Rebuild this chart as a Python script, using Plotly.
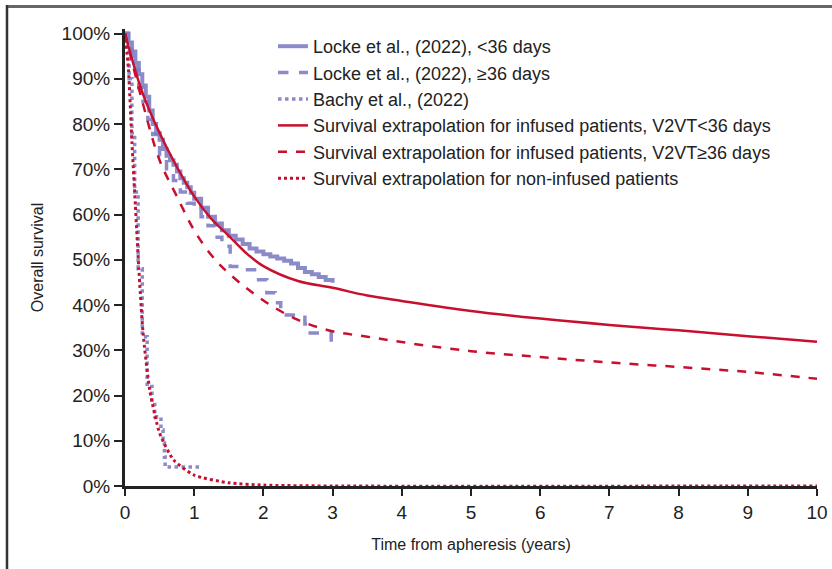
import plotly.graph_objects as go

# ---- data ----
locke_lt36_t = [0, 0.05, 0.1, 0.15, 0.2, 0.25, 0.3, 0.35, 0.4, 0.45, 0.5, 0.55, 0.6, 0.65, 0.7, 0.75, 0.8, 0.85, 0.9, 0.95,
                1.0, 1.1, 1.2, 1.3, 1.4, 1.5, 1.6, 1.7, 1.8, 1.9, 2.0, 2.1, 2.2, 2.3, 2.4, 2.5, 2.6, 2.7, 2.8, 2.9, 3.0]
locke_lt36_s = [100, 98, 96, 93.5, 91, 88.5, 86, 83, 80, 78, 76.5, 74.5, 73, 72, 71, 69.5, 68, 67, 66, 64.8,
                63.5, 61.5, 59.5, 58, 56.5, 55.3, 54.5, 53.5, 52.5, 51.8, 51.2, 50.7, 50.3, 49.8, 49.2, 48.2, 47.3, 46.8, 46.2, 45.5, 44.9]

locke_ge36_t = [0, 0.05, 0.1, 0.15, 0.2, 0.26, 0.33, 0.4, 0.5, 0.6, 0.7, 0.8, 0.9, 1.0, 1.1, 1.2, 1.3, 1.4, 1.52,
                1.7, 1.9, 2.05, 2.17, 2.25, 2.6, 2.65, 2.98, 3.0]
locke_ge36_s = [100, 98, 95, 92, 88, 85, 81, 77.7, 73, 69.5, 67.5, 65, 62.5, 61, 59.5, 57.5, 55, 53, 48.5,
                47.8, 45.6, 42.7, 40.5, 37.8, 35.8, 33.8, 31.6, 31.6]

bachy_t = [0, 0.03, 0.06, 0.1, 0.14, 0.19, 0.25, 0.32, 0.39, 0.43, 0.5, 0.52, 0.55, 0.57, 0.58, 1.08]
bachy_s = [100, 97, 90, 78, 65, 48, 33, 22, 18.4, 15.3, 15.3, 12.4, 9.5, 6.4, 4.2, 4.2]

ext_lt36_t = [0, 0.25, 0.5, 0.75, 1.0, 1.25, 1.5, 1.75, 2.0, 2.5, 3.0, 3.5, 4, 5, 6, 7, 8, 9, 10]
ext_lt36_s = [100, 87, 78, 70.5, 64, 59, 55.3, 51.5, 48.6, 45.3, 43.8, 42.1, 40.9, 38.7, 37.0, 35.6, 34.4, 33.1, 31.9]

ext_ge36_t = [0, 0.25, 0.5, 0.75, 1.0, 1.25, 1.5, 2.0, 2.5, 3.0, 3.5, 4, 5, 6, 7, 8, 9, 10]
ext_ge36_s = [100, 85, 72, 64, 56.5, 51, 47, 41, 36.7, 34.2, 33, 31.8, 29.8, 28.5, 27.3, 26.3, 25.2, 23.7]

ext_non_t = [0, 0.05, 0.1, 0.15, 0.2, 0.26, 0.36, 0.5, 0.7, 1.0, 1.5, 2.0, 3.0, 10]
ext_non_s = [100, 92, 76, 62, 48, 34, 21, 11.7, 5.8, 2.4, 0.7, 0.2, 0, 0]

x_ticks = [0, 1, 2, 3, 4, 5, 6, 7, 8, 9, 10]
y_ticks = [0, 10, 20, 30, 40, 50, 60, 70, 80, 90, 100]
y_tick_labels = ["0%", "10%", "20%", "30%", "40%", "50%", "60%", "70%", "80%", "90%", "100%"]

BLUE = "rgba(128,126,196,0.9)"
RED = "#c8102e"

fig = go.Figure()
fig.add_trace(go.Scatter(x=locke_lt36_t, y=locke_lt36_s, mode="lines", line_shape="hv",
                         line=dict(color=BLUE, width=4, dash="solid"),
                         name="Locke et al., (2022), &lt;36 days"))
fig.add_trace(go.Scatter(x=locke_ge36_t, y=locke_ge36_s, mode="lines", line_shape="hv",
                         line=dict(color=BLUE, width=3.5, dash="dash"),
                         name="Locke et al., (2022), ≥36 days"))
fig.add_trace(go.Scatter(x=bachy_t, y=bachy_s, mode="lines", line_shape="hv",
                         line=dict(color=BLUE, width=3.5, dash="dot"),
                         name="Bachy et al., (2022)"))
fig.add_trace(go.Scatter(x=ext_lt36_t, y=ext_lt36_s, mode="lines", line_shape="spline",
                         line=dict(color=RED, width=2.5, dash="solid"),
                         name="Survival extrapolation for infused patients, V2VT&lt;36 days"))
fig.add_trace(go.Scatter(x=ext_ge36_t, y=ext_ge36_s, mode="lines", line_shape="spline",
                         line=dict(color=RED, width=2.5, dash="dash"),
                         name="Survival extrapolation for infused patients, V2VT≥36 days"))
fig.add_trace(go.Scatter(x=ext_non_t, y=ext_non_s, mode="lines", line_shape="spline",
                         line=dict(color=RED, width=3, dash="dot", smoothing=0.6),
                         name="Survival extrapolation for non-infused patients"))

L, R, T, B = 125, 15, 29, 83
W, H = 832, 569
pw, ph = W - L - R, H - T - B

def px2paper_x(px):
    return (px - L) / pw

def px2paper_y(py):
    return (H - B - py) / ph

TITLE_FONT = dict(family="Liberation Sans, Arial, sans-serif", size=16, color="#222")

fig.update_layout(
    width=W, height=H,
    margin=dict(l=L, r=R, t=T, b=B, pad=0, autoexpand=False),
    paper_bgcolor="white", plot_bgcolor="white",
    font=dict(family="Liberation Sans, Arial, sans-serif", size=18, color="#222"),
    showlegend=True,
    legend=dict(x=px2paper_x(273), y=px2paper_y(28), xanchor="left", yanchor="top",
                bgcolor="rgba(0,0,0,0)", font=dict(size=18, color="#222"),
                tracegroupgap=0, itemwidth=30),
    xaxis=dict(range=[0, 10], tickvals=x_ticks, ticks="outside", ticklen=7, tickwidth=2,
               tickcolor="#222", showline=True, linecolor="#222", linewidth=3,
               showgrid=False, zeroline=False, automargin=False,
               tickfont=dict(size=19),
               title=dict(text="Time from apheresis (years)", standoff=18, font=TITLE_FONT)),
    yaxis=dict(range=[0, 101], tickvals=y_ticks, ticktext=y_tick_labels, ticks="outside", ticklen=8,
               tickwidth=2, tickcolor="#222", showline=True, linecolor="#222", linewidth=3,
               showgrid=False, zeroline=False, automargin=False,
               tickfont=dict(size=19),
               title=dict(text="Overall survival", standoff=14, font=TITLE_FONT)),
)

# frame lines of the figure panel
fig.add_shape(type="line", xref="paper", yref="paper", layer="above",
              x0=px2paper_x(6), x1=px2paper_x(832), y0=px2paper_y(6.5), y1=px2paper_y(6.5),
              line=dict(color="#666666", width=3))
fig.add_shape(type="line", xref="paper", yref="paper", layer="above",
              x0=px2paper_x(7), x1=px2paper_x(7), y0=px2paper_y(5), y1=px2paper_y(569),
              line=dict(color="#333", width=2.5))

fig.write_html("out.html", config={"displayModeBar": False},
               post_script="document.body.style.margin='0';document.body.style.padding='0';")
